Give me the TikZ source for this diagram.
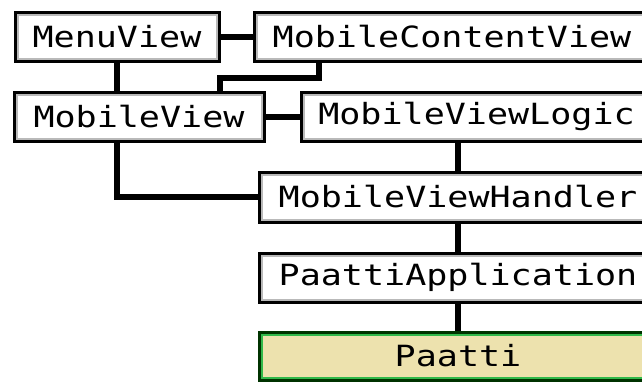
\documentclass[tikz,border=0pt]{standalone}
\usepackage{fontspec}
\usepackage{xcolor}
\usetikzlibrary{positioning}
\newfontfamily\boxfont{DejaVu Sans Mono}[FakeStretch=1.2]
\definecolor{paattitan}{RGB}{237,226,174}
\definecolor{paattigreen}{RGB}{50,185,75}

\begin{document}
\begin{tikzpicture}[x=1pt, y=-1pt,
	box/.style={draw=black, line width=3pt, fill=white, inner sep=0pt,
		minimum height=49pt, font=\boxfont\fontsize{29.2}{33}\selectfont,
		path picture={\draw[gray!55, line width=7pt] (path picture bounding box.south west) rectangle (path picture bounding box.north east);}},
	mainbox/.style={box, fill=paattitan, draw=black!80!green,
		path picture={\draw[paattigreen, line width=7pt] (path picture bounding box.south west) rectangle (path picture bounding box.north east);}},
	link/.style={draw=black, line width=6pt}]
	\clip (0,0) rectangle (642,381);
	\fill[white] (0,0) rectangle (642,381);
	%
	% Boxes
	\node[box, minimum width=204pt] (menu) at (117,36.5) {MenuView};
	\node[box, minimum width=396pt] (content) at (452,36.5) {MobileContentView};
	\node[box, minimum width=250pt] (mview) at (139,116.5) {MobileView};
	\node[box, minimum width=351pt] (logic) at (476.5,116.5) {MobileViewLogic};
	\node[box, minimum width=398pt, minimum height=50pt] (handler) at (458,197) {MobileViewHandler};
	\node[box, minimum width=398pt] (app) at (458,277.5) {PaattiApplication};
	\node[mainbox, minimum width=398pt, minimum height=48pt] (paatti) at (458,356) {Paatti};
	%
	% Bend points
	\coordinate (drop) at (318.5,78); % under MobileContentView
	\coordinate (bend) at (219.5,78); % above MobileView
	%
	% Connectors
	\draw[link] (menu.east) -- (content.west);
	\draw[link] (menu.south) -- (menu.south |- mview.north);
	\draw[link] (drop |- content.south) -- (drop) -- (bend) -- (bend |- mview.north);
	\draw[link] (mview.east) -- (logic.west);
	\draw[link] (handler.north) -- (handler.north |- logic.south);
	\draw[link] (menu.south |- mview.south) |- (handler.west);
	\draw[link] (handler.south) -- (app.north);
	\draw[link] (app.south) -- (paatti.north);
\end{tikzpicture}
\end{document}
